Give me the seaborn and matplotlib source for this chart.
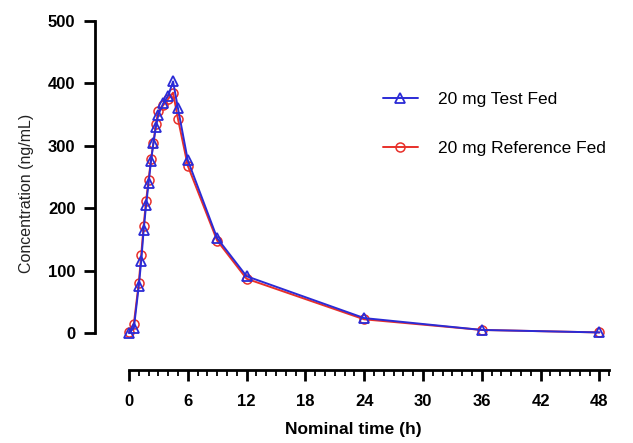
import numpy as np
import pandas as pd
import seaborn as sns
import matplotlib.pyplot as plt
from matplotlib.ticker import FixedLocator

# nominal sampling times (h)
times = [0, 0.5, 1, 1.25, 1.5, 1.75, 2, 2.25, 2.5, 2.75, 3, 3.5, 4, 4.5, 5, 6, 9, 12, 24, 36, 48]
test_fed = [0, 8, 75, 115, 165, 205, 240, 275, 305, 330, 350, 368, 380, 403, 360, 277, 152, 91, 24, 5, 1]
ref_fed = [2, 15, 80, 125, 172, 212, 245, 278, 305, 335, 355, 365, 375, 385, 343, 268, 148, 87, 22, 5, 1]

sns.set_style("white")
plt.rcParams['font.family'] = ['Liberation Sans', 'DejaVu Sans']
plt.rcParams['text.color'] = 'black'

fig = plt.figure(figsize=(6.33, 4.43), dpi=100)
ax = fig.add_axes([0.150, 0.165, 0.817, 0.795])

sns.lineplot(x=times, y=ref_fed, ax=ax, color="#e8302a", marker="o", markersize=6.5,
             markerfacecolor="none", markeredgecolor="#e8302a", markeredgewidth=1.1,
             linewidth=1.4, label="20 mg Reference Fed")
sns.lineplot(x=times, y=test_fed, ax=ax, color="#2b2bd6", marker="^", markersize=6.5,
             markerfacecolor="none", markeredgecolor="#2b2bd6", markeredgewidth=1.3,
             linewidth=1.4, label="20 mg Test Fed")

ax.set_xlim(-3.47, 49.3)
ax.set_ylim(-59, 505)
ax.spines['top'].set_visible(False)
ax.spines['right'].set_visible(False)
ax.spines['left'].set_bounds(0, 500)
ax.spines['bottom'].set_bounds(0, 49)
for side in ['left', 'bottom']:
    ax.spines[side].set_linewidth(2)
    ax.spines[side].set_color('black')

ax.set_xticks(np.arange(0, 49, 6))
ax.set_yticks(np.arange(0, 501, 100))
ax.xaxis.set_minor_locator(FixedLocator([t for t in range(0, 50) if t % 6 != 0]))
ax.tick_params(axis='both', which='major', length=8, width=2, color='black', labelcolor='black',
               labelsize=12, direction='out', bottom=True, left=True)
ax.tick_params(axis='x', which='major', pad=9)
ax.tick_params(axis='y', which='major', pad=6)
ax.tick_params(axis='x', which='minor', length=4, width=1.3, color='black', bottom=True)
for lbl in ax.get_xticklabels() + ax.get_yticklabels():
    lbl.set_fontweight('bold')

ax.set_xlabel("Nominal time (h)", fontsize=12.5, fontweight='bold', labelpad=10, color='black')
ax.set_ylabel("Concentration (ng/mL)", fontsize=11.5, labelpad=10, color='#222222')

handles, labels = ax.get_legend_handles_labels()
leg = ax.legend(handles[::-1], labels[::-1], loc='upper left', bbox_to_anchor=(0.54, 0.815),
                frameon=False, fontsize=12.5, handlelength=2.0, labelspacing=1.95,
                handletextpad=1.2, borderpad=0)
for t in leg.get_texts():
    t.set_color('black')

fig.savefig("out.png", dpi=100)
